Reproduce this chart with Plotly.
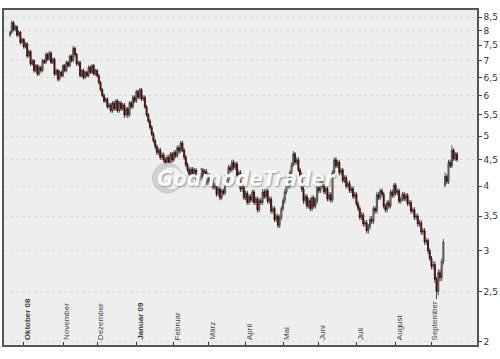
import plotly.graph_objects as go
import pandas as pd

# trading days (category axis)
dates = [d.strftime("%Y-%m-%d") for d in pd.bdate_range("2008-09-19", periods=263)]

open_ = [7.85, 7.95, 8.3, 8.05, 8.15, 7.85, 7.95, 7.6, 7.7, 7.45,
         7.55, 7.15, 7.3, 6.9, 7.0, 6.7, 6.85, 6.6, 6.8, 6.7,
         7.0, 6.95, 7.2, 7.05, 7.25, 6.95, 7.05, 6.6, 6.7, 6.45,
         6.65, 6.55, 6.85, 6.7, 6.95, 6.85, 7.15, 7.0, 7.4, 7.2,
         6.9, 6.95, 6.55, 6.7, 6.5, 6.65, 6.55, 6.8, 6.65, 6.85,
         6.6, 6.7, 6.55, 6.35, 6.15, 6.0, 5.85, 5.9, 5.7, 5.75,
         5.6, 5.8, 5.65, 5.85, 5.6, 5.8, 5.65, 5.75, 5.5, 5.65,
         5.5, 5.8, 5.7, 5.95, 5.85, 6.1, 5.95, 6.15, 5.9, 5.95,
         5.7, 5.5, 5.35, 5.2, 5.05, 4.9, 4.78, 4.65, 4.7, 4.55,
         4.6, 4.5, 4.42, 4.55, 4.45, 4.62, 4.5, 4.65, 4.58, 4.75,
         4.68, 4.85, 4.7, 4.55, 4.4, 4.3, 4.22, 4.32, 4.2, 4.3,
         4.12, 4.25, 4.15, 4.3, 4.18, 4.28, 4.06, 4.2, 4.1, 4.15,
         3.98, 4.02, 3.86, 3.95, 3.8, 3.92, 3.88, 4.15, 4.1, 4.35,
         4.3, 4.45, 4.35, 4.42, 4.2, 4.25, 3.95, 4.0, 3.8, 3.88,
         3.72, 3.82, 3.76, 3.9, 3.72, 3.78, 3.6, 3.75, 3.72, 3.9,
         3.82, 3.92, 3.74, 3.78, 3.58, 3.62, 3.45, 3.5, 3.36, 3.48,
         3.62, 3.75, 3.9, 4.05, 4.0, 4.25, 4.4, 4.62, 4.45, 4.5,
         4.3, 4.2, 3.95, 3.75, 3.82, 3.66, 3.75, 3.62, 3.8, 3.66,
         3.75, 3.98, 3.92, 4.15, 4.0, 3.9, 3.96, 3.78, 3.85, 3.76,
         4.25, 4.5, 4.38, 4.45, 4.25, 4.3, 4.1, 4.16, 4.0, 4.05,
         3.92, 3.96, 3.82, 3.86, 3.7, 3.62, 3.48, 3.52, 3.38, 3.4,
         3.28, 3.34, 3.45, 3.42, 3.62, 3.58, 3.85, 3.8, 3.92, 3.86,
         3.66, 3.6, 3.72, 3.66, 3.9, 3.84, 4.02, 3.88, 3.92, 3.74,
         3.78, 3.86, 3.78, 3.84, 3.7, 3.72, 3.58, 3.6, 3.48, 3.5,
         3.38, 3.4, 3.26, 3.28, 3.12, 3.14, 3.0, 2.9, 2.8, 2.82,
         2.64, 2.5, 2.72, 2.66, 2.86, 4.02, 4.18, 4.08, 4.45, 4.38,
         4.7, 4.52, 4.62]

high = [8.02, 8.38, 8.36, 8.22, 8.2, 8.02, 8.0, 7.76, 7.75, 7.62,
        7.6, 7.36, 7.35, 7.06, 7.05, 6.9, 6.9, 6.86, 6.85, 7.06,
        7.06, 7.26, 7.26, 7.32, 7.3, 7.1, 7.1, 6.76, 6.75, 6.72,
        6.7, 6.9, 6.9, 7.0, 7.0, 7.2, 7.2, 7.48, 7.45, 7.25,
        7.0, 7.0, 6.75, 6.76, 6.7, 6.7, 6.86, 6.85, 6.9, 6.9,
        6.75, 6.75, 6.6, 6.4, 6.2, 6.05, 5.95, 5.95, 5.8, 5.8,
        5.85, 5.85, 5.9, 5.9, 5.85, 5.85, 5.8, 5.8, 5.7, 5.7,
        5.85, 5.85, 6.0, 6.0, 6.15, 6.15, 6.2, 6.2, 6.0, 6.0,
        5.75, 5.55, 5.4, 5.25, 5.1, 4.95, 4.82, 4.75, 4.75, 4.65,
        4.65, 4.55, 4.6, 4.6, 4.66, 4.66, 4.7, 4.7, 4.8, 4.8,
        4.9, 4.9, 4.74, 4.6, 4.45, 4.35, 4.36, 4.36, 4.34, 4.34,
        4.3, 4.3, 4.34, 4.34, 4.32, 4.32, 4.24, 4.24, 4.2, 4.2,
        4.06, 4.06, 3.99, 3.99, 3.96, 3.96, 4.2, 4.2, 4.4, 4.4,
        4.5, 4.5, 4.46, 4.46, 4.3, 4.3, 4.04, 4.04, 3.92, 3.92,
        3.86, 3.86, 3.94, 3.94, 3.82, 3.82, 3.8, 3.8, 3.95, 3.95,
        3.96, 3.96, 3.82, 3.82, 3.66, 3.66, 3.54, 3.54, 3.52, 3.66,
        3.8, 3.95, 4.1, 4.1, 4.3, 4.45, 4.68, 4.66, 4.55, 4.55,
        4.34, 4.25, 4.0, 3.86, 3.86, 3.8, 3.8, 3.84, 3.84, 3.8,
        4.02, 4.02, 4.2, 4.2, 4.04, 4.0, 4.0, 3.9, 3.9, 4.3,
        4.55, 4.55, 4.5, 4.5, 4.34, 4.34, 4.2, 4.2, 4.1, 4.1,
        4.0, 4.0, 3.9, 3.9, 3.74, 3.66, 3.56, 3.56, 3.44, 3.44,
        3.38, 3.5, 3.5, 3.66, 3.66, 3.9, 3.9, 3.96, 3.96, 3.9,
        3.7, 3.76, 3.76, 3.94, 3.94, 4.06, 4.06, 3.96, 3.96, 3.82,
        3.9, 3.9, 3.88, 3.88, 3.76, 3.76, 3.64, 3.64, 3.54, 3.54,
        3.44, 3.44, 3.32, 3.32, 3.17, 3.17, 3.03, 2.93, 2.86, 2.86,
        2.67, 2.76, 2.76, 2.9, 3.16, 4.25, 4.22, 4.5, 4.5, 4.8,
        4.74, 4.66, 4.66]

low = [7.78, 7.9, 7.98, 7.98, 7.78, 7.8, 7.52, 7.55, 7.38, 7.4,
       7.08, 7.1, 6.84, 6.85, 6.64, 6.65, 6.54, 6.55, 6.64, 6.65,
       6.9, 6.9, 7.0, 7.0, 6.9, 6.9, 6.54, 6.55, 6.38, 6.4,
       6.5, 6.5, 6.65, 6.65, 6.8, 6.8, 6.95, 6.95, 7.12, 6.84,
       6.84, 6.5, 6.5, 6.44, 6.45, 6.5, 6.5, 6.6, 6.6, 6.55,
       6.55, 6.5, 6.3, 6.1, 5.95, 5.8, 5.8, 5.65, 5.65, 5.55,
       5.55, 5.6, 5.6, 5.55, 5.55, 5.6, 5.6, 5.42, 5.45, 5.42,
       5.45, 5.65, 5.65, 5.8, 5.8, 5.9, 5.9, 5.85, 5.85, 5.65,
       5.45, 5.3, 5.15, 5.0, 4.85, 4.72, 4.6, 4.6, 4.5, 4.5,
       4.45, 4.38, 4.38, 4.4, 4.4, 4.45, 4.46, 4.54, 4.54, 4.62,
       4.64, 4.66, 4.5, 4.36, 4.26, 4.18, 4.18, 4.16, 4.16, 4.08,
       4.08, 4.1, 4.1, 4.14, 4.14, 4.02, 4.02, 4.06, 4.06, 3.94,
       3.94, 3.82, 3.82, 3.76, 3.76, 3.84, 3.84, 4.05, 4.05, 4.25,
       4.26, 4.3, 4.3, 4.16, 4.16, 3.9, 3.9, 3.76, 3.76, 3.68,
       3.68, 3.72, 3.72, 3.68, 3.68, 3.56, 3.56, 3.68, 3.68, 3.78,
       3.78, 3.7, 3.7, 3.54, 3.54, 3.41, 3.41, 3.32, 3.32, 3.44,
       3.58, 3.7, 3.86, 3.96, 3.96, 4.2, 4.36, 4.4, 4.4, 4.26,
       4.15, 3.9, 3.7, 3.7, 3.62, 3.62, 3.58, 3.58, 3.62, 3.62,
       3.7, 3.88, 3.88, 3.96, 3.86, 3.86, 3.74, 3.74, 3.72, 3.72,
       4.2, 4.34, 4.34, 4.2, 4.2, 4.06, 4.06, 3.96, 3.96, 3.88,
       3.88, 3.78, 3.78, 3.66, 3.58, 3.44, 3.44, 3.34, 3.34, 3.24,
       3.24, 3.3, 3.38, 3.38, 3.54, 3.54, 3.76, 3.76, 3.82, 3.62,
       3.56, 3.56, 3.62, 3.62, 3.8, 3.8, 3.84, 3.84, 3.7, 3.7,
       3.74, 3.74, 3.74, 3.66, 3.66, 3.54, 3.54, 3.44, 3.44, 3.34,
       3.34, 3.22, 3.22, 3.08, 3.08, 2.96, 2.87, 2.76, 2.76, 2.6,
       2.42, 2.46, 2.62, 2.62, 2.82, 3.98, 4.04, 4.04, 4.34, 4.34,
       4.48, 4.48, 4.46]

close = [7.95, 8.3, 8.05, 8.15, 7.85, 7.95, 7.6, 7.7, 7.45, 7.55,
         7.15, 7.3, 6.9, 7.0, 6.7, 6.85, 6.6, 6.8, 6.7, 7.0,
         6.95, 7.2, 7.05, 7.25, 6.95, 7.05, 6.6, 6.7, 6.45, 6.65,
         6.55, 6.85, 6.7, 6.95, 6.85, 7.15, 7.0, 7.4, 7.2, 6.9,
         6.95, 6.55, 6.7, 6.5, 6.65, 6.55, 6.8, 6.65, 6.85, 6.6,
         6.7, 6.55, 6.35, 6.15, 6.0, 5.85, 5.9, 5.7, 5.75, 5.6,
         5.8, 5.65, 5.85, 5.6, 5.8, 5.65, 5.75, 5.5, 5.65, 5.5,
         5.8, 5.7, 5.95, 5.85, 6.1, 5.95, 6.15, 5.9, 5.95, 5.7,
         5.5, 5.35, 5.2, 5.05, 4.9, 4.78, 4.65, 4.7, 4.55, 4.6,
         4.5, 4.42, 4.55, 4.45, 4.62, 4.5, 4.65, 4.58, 4.75, 4.68,
         4.85, 4.7, 4.55, 4.4, 4.3, 4.22, 4.32, 4.2, 4.3, 4.12,
         4.25, 4.15, 4.3, 4.18, 4.28, 4.06, 4.2, 4.1, 4.15, 3.98,
         4.02, 3.86, 3.95, 3.8, 3.92, 3.88, 4.15, 4.1, 4.35, 4.3,
         4.45, 4.35, 4.42, 4.2, 4.25, 3.95, 4.0, 3.8, 3.88, 3.72,
         3.82, 3.76, 3.9, 3.72, 3.78, 3.6, 3.75, 3.72, 3.9, 3.82,
         3.92, 3.74, 3.78, 3.58, 3.62, 3.45, 3.5, 3.36, 3.48, 3.62,
         3.75, 3.9, 4.05, 4.0, 4.25, 4.4, 4.62, 4.45, 4.5, 4.3,
         4.2, 3.95, 3.75, 3.82, 3.66, 3.75, 3.62, 3.8, 3.66, 3.75,
         3.98, 3.92, 4.15, 4.0, 3.9, 3.96, 3.78, 3.85, 3.76, 4.25,
         4.5, 4.38, 4.45, 4.25, 4.3, 4.1, 4.16, 4.0, 4.05, 3.92,
         3.96, 3.82, 3.86, 3.7, 3.62, 3.48, 3.52, 3.38, 3.4, 3.28,
         3.34, 3.45, 3.42, 3.62, 3.58, 3.85, 3.8, 3.92, 3.86, 3.66,
         3.6, 3.72, 3.66, 3.9, 3.84, 4.02, 3.88, 3.92, 3.74, 3.78,
         3.86, 3.78, 3.84, 3.7, 3.72, 3.58, 3.6, 3.48, 3.5, 3.38,
         3.4, 3.26, 3.28, 3.12, 3.14, 3.0, 2.9, 2.8, 2.82, 2.64,
         2.5, 2.72, 2.66, 2.86, 3.12, 4.18, 4.08, 4.45, 4.38, 4.7,
         4.52, 4.62, 4.5]

month_ticks = ["2008-10-01", "2008-11-03", "2008-12-01", "2009-01-01", "2009-02-02", "2009-03-02",
               "2009-04-01", "2009-05-01", "2009-06-01", "2009-07-01", "2009-08-03", "2009-09-01"]
month_labels = ["<b>Oktober 08</b>", "November", "Dezember", "<b>Januar 09</b>", "Februar", "März",
                "April", "Mai", "Juni", "Juli", "August", "September"]

y_ticks = [2, 2.5, 3, 3.5, 4, 4.5, 5, 5.5, 6, 6.5, 7, 7.5, 8, 8.5]
y_labels = ["2", "2,5", "3", "3,5", "4", "4,5", "5", "5,5", "6", "6,5", "7", "7,5", "8", "8,5"]

fig = go.Figure()
fig.add_trace(go.Candlestick(
    x=dates, open=open_, high=high, low=low, close=close,
    increasing=dict(line=dict(color="#303030", width=0.8), fillcolor="#ababab"),
    decreasing=dict(line=dict(color="#2a0505", width=0.8), fillcolor="#9a0000"),
    whiskerwidth=0, showlegend=False, hoverinfo="skip",
))

# month labels, drawn upright inside the plot just above the time axis
for tv, lab in zip(month_ticks, month_labels):
    fig.add_annotation(x=tv, y=0, xref="x", yref="paper", text=lab, textangle=-90,
                       showarrow=False, xanchor="center", yanchor="bottom",
                       xshift=3.5, yshift=3,
                       font=dict(family="Liberation Sans, Arial, sans-serif", size=8, color="#444444"))

# watermark
fig.add_shape(type="circle", xref="paper", yref="paper",
              x0=0.314, x1=0.377, y0=0.454, y1=0.543,
              fillcolor="rgba(205,205,205,0.85)", line=dict(color="rgba(190,190,190,0.8)", width=1),
              layer="above")
fig.add_shape(type="circle", xref="paper", yref="paper",
              x0=0.330, x1=0.377, y0=0.466, y1=0.530,
              fillcolor="rgba(245,245,245,0.9)", line=dict(width=0), layer="above")
fig.add_annotation(text="<b><i>GodmodeTrader</i></b>", xref="paper", yref="paper",
                   x=0.512, y=0.4985, xanchor="center", yanchor="middle", showarrow=False,
                   font=dict(family="DejaVu Sans Condensed, Liberation Sans Narrow, Liberation Sans, Arial",
                             size=22, color="rgba(255,255,255,0.94)", shadow="1px 1px 2px #8c8c8c"))

fig.update_layout(
    width=500, height=359, autosize=False,
    margin=dict(l=2, r=20, t=10, b=14),
    paper_bgcolor="white", plot_bgcolor="#eeeeee",
    boxgap=0.1,
    font=dict(family="DejaVu Sans, Verdana, sans-serif", size=9, color="#333333"),
)
fig.update_xaxes(
    type="category", range=[-3.6, 273.7], rangeslider_visible=False,
    tickmode="array", tickvals=month_ticks, showticklabels=False,
    ticks="inside", ticklen=3, tickcolor="#333333",
    showgrid=False, showline=True, linecolor="#555555", linewidth=1.5, mirror=True,
    zeroline=False, fixedrange=True,
)
fig.update_yaxes(
    type="log", side="right", range=[0.2945, 0.9435],
    tickmode="array", tickvals=y_ticks, ticktext=y_labels,
    ticks="outside", ticklen=3, tickcolor="#444444",
    tickfont=dict(family="DejaVu Sans, Verdana, sans-serif", size=9, color="#333333"),
    showgrid=True, gridcolor="#dadada", griddash="dot", gridwidth=1,
    showline=True, linecolor="#555555", linewidth=1.5, mirror=True,
    zeroline=False, fixedrange=True,
)

fig.write_html("out.html", config={"displayModeBar": False},
               post_script="document.body.style.margin='0';document.body.style.overflow='hidden';")
